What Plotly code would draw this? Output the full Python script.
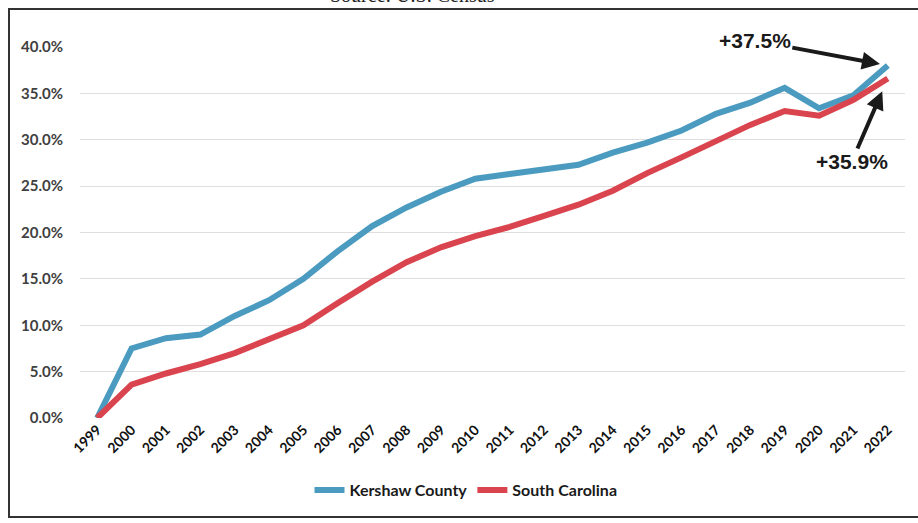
import plotly.graph_objects as go

years = [str(y) for y in range(1999, 2023)]
kershaw = [0.0, 7.5, 8.6, 9.0, 11.0, 12.7, 15.0, 18.0, 20.7, 22.7, 24.4, 25.8,
           26.3, 26.8, 27.3, 28.6, 29.7, 31.0, 32.8, 34.0, 35.6, 33.4, 34.8, 38.0]
south_carolina = [0.0, 3.6, 4.8, 5.8, 7.0, 8.5, 10.0, 12.4, 14.7, 16.8, 18.4, 19.6,
                  20.6, 21.8, 23.0, 24.5, 26.4, 28.1, 29.9, 31.6, 33.1, 32.6, 34.3, 36.6]
y_ticks = [0, 5, 10, 15, 20, 25, 30, 35, 40]
y_tick_labels = ["0.0%", "5.0%", "10.0%", "15.0%", "20.0%", "25.0%", "30.0%", "35.0%", "40.0%"]
kershaw_label = "+37.5%"
sc_label = "+35.9%"

BLUE = "#4a9bbf"
RED = "#d9444e"

fig = go.Figure()
fig.add_trace(go.Scatter(x=years, y=kershaw, mode="lines", name="Kershaw County",
                         line=dict(color=BLUE, width=6), cliponaxis=False))
fig.add_trace(go.Scatter(x=years, y=south_carolina, mode="lines", name="South Carolina",
                         line=dict(color=RED, width=6), cliponaxis=False))

L, R, T, B = 80, 13, 47, 105
W, H = 918, 523
pw, ph = W - L - R, H - T - B

def px_x(p):
    return (p - L) / pw

def px_y(p):
    return 1 - (p - T) / ph

fig.update_layout(
    width=W, height=H,
    margin=dict(l=L, r=R, t=T, b=B),
    paper_bgcolor="white", plot_bgcolor="white",
    font=dict(family="Lato, Open Sans, sans-serif"),
    showlegend=True,
    legend=dict(orientation="h", x=px_x(466), y=px_y(490), xanchor="center", yanchor="middle",
                font=dict(size=16, color="#1a1a1a", family="Lato", weight="bold"), itemwidth=30,
                tracegroupgap=0, bgcolor="rgba(0,0,0,0)"),
)
fig.update_xaxes(type="category", range=[-0.5, len(years) - 0.5], tickangle=-45,
                 tickfont=dict(size=14, color="#111111", family="Lato", weight="bold"),
                 showgrid=False, showline=False, ticks="", zeroline=False)
fig.update_yaxes(range=[0, 40], tickvals=y_ticks, ticktext=y_tick_labels,
                 tickfont=dict(size=15, color="#404040", family="Lato", weight="bold"),
                 showgrid=True, gridcolor="#dedede", gridwidth=1, zeroline=False,
                 showline=False, ticks="", ticklabelstandoff=16)

last = len(years) - 1
fig.add_annotation(x=last, y=kershaw[-1], text=kershaw_label, showarrow=True,
                   ax=-133, ay=-25, arrowhead=2, arrowsize=0.9, arrowwidth=4,
                   arrowcolor="#1a1a1a", standoff=8,
                   font=dict(size=21, color="#1a1a1a", family="Liberation Sans", weight="bold"))
fig.add_annotation(x=last, y=south_carolina[-1], text=sc_label, showarrow=True,
                   ax=-36, ay=83, arrowhead=2, arrowsize=0.9, arrowwidth=4,
                   arrowcolor="#1a1a1a", standoff=14,
                   font=dict(size=21, color="#1a1a1a", family="Liberation Sans", weight="bold"))

fig.add_annotation(xref="paper", yref="paper", x=px_x(412), y=px_y(8), text="Source: U.S. Census",
                   showarrow=False, xanchor="center", yanchor="bottom",
                   font=dict(size=20, color="#222222", family="Liberation Serif"))

fig.add_shape(type="rect", xref="paper", yref="paper",
              x0=px_x(9), x1=px_x(930), y0=px_y(517), y1=px_y(9),
              line=dict(color="#333333", width=2), fillcolor="rgba(0,0,0,0)", layer="below")

fig.write_html("out.html")
